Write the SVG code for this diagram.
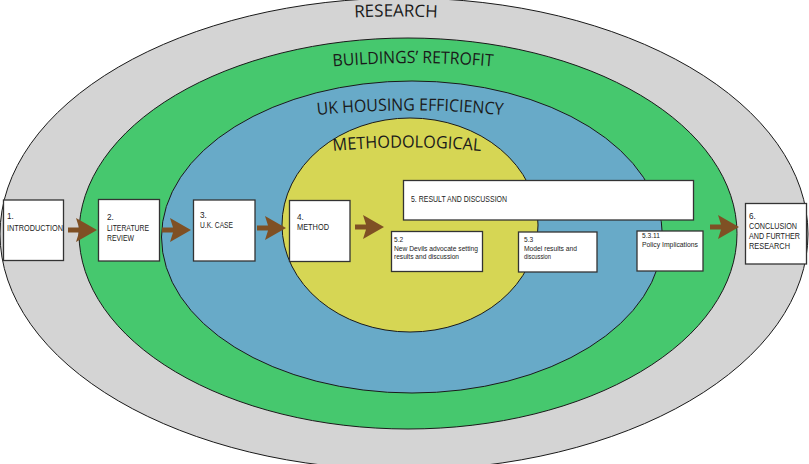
<svg xmlns="http://www.w3.org/2000/svg" xmlns:xlink="http://www.w3.org/1999/xlink" width="809" height="464" viewBox="0 0 809 464">
<style>
.ring{stroke:#1a1a1a;stroke-width:1}
.box{fill:#ffffff;stroke:#333333;stroke-width:1.3}
.lbl{font-family:"Open Sans","Liberation Sans",sans-serif;font-size:17px;fill:#1a1a1a}
.t{font-family:"Liberation Sans",Arial,sans-serif;font-size:8.2px;fill:#222222}
.s{font-family:"Liberation Sans",Arial,sans-serif;font-size:6.6px;fill:#222222}
.arr{fill:#7f5024}
</style>
<defs>
<path id="arrow" d="M0,-2.5 H11 L8,-12 L29,0 L8,12 L11,2.5 H0 Z"/>
<path id="pResearch" d="M330 19 Q 396 14 462 19"/>
<path id="pBuild" d="M310 69 Q 413 57 516 69"/>
<path id="pUK" d="M300 117 Q 410 104 520 117"/>
<path id="pMeth" d="M315 153 Q 407 142 499 153"/>
</defs>

<g id="research">
<ellipse class="ring" cx="404" cy="234" rx="404" ry="236" fill="#d4d4d4"/>
<text class="lbl" font-size="16"><textPath href="#pResearch" startOffset="50%" text-anchor="middle">RESEARCH</textPath></text>
</g>
<g id="buildings-retrofit">
<ellipse class="ring" cx="408" cy="233.5" rx="329" ry="195.5" fill="#46c86e"/>
<text class="lbl"><textPath href="#pBuild" startOffset="50%" text-anchor="middle" textLength="160" lengthAdjust="spacingAndGlyphs">BUILDINGS’ RETROFIT</textPath></text>
</g>
<g id="uk-housing-efficiency">
<ellipse class="ring" cx="412" cy="237" rx="250.5" ry="156" fill="#68aac8"/>
<text class="lbl" font-size="18"><textPath href="#pUK" startOffset="50%" text-anchor="middle" textLength="186" lengthAdjust="spacingAndGlyphs">UK HOUSING EFFICIENCY</textPath></text>
</g>
<g id="methodological">
<ellipse class="ring" cx="410" cy="225" rx="128" ry="107" fill="#d6d654"/>
<text class="lbl" font-size="18"><textPath href="#pMeth" startOffset="50%" text-anchor="middle" textLength="148" lengthAdjust="spacingAndGlyphs">METHODOLOGICAL</textPath></text>
</g>

<g id="connectors">
<use href="#arrow" class="arr" x="68" y="230"/>
<use href="#arrow" class="arr" x="162" y="230"/>
<use href="#arrow" class="arr" x="257" y="228"/>
<use href="#arrow" class="arr" x="355" y="227"/>
<use href="#arrow" class="arr" x="710" y="227"/>
</g>

<g id="n1">
<rect class="box" x="3.5" y="200" width="60" height="60.5"/>
<text class="t" x="7" y="219">1.</text>
<text class="t" x="7" y="231" textLength="56" lengthAdjust="spacingAndGlyphs">INTRODUCTION</text>
</g>
<g id="n2">
<rect class="box" x="98.5" y="199.5" width="61" height="61.5"/>
<text class="t" x="107" y="220">2.</text>
<text class="t" x="107" y="231" textLength="42" lengthAdjust="spacingAndGlyphs">LITERATURE</text>
<text class="t" x="107" y="241" textLength="27" lengthAdjust="spacingAndGlyphs">REVIEW</text>
</g>
<g id="n3">
<rect class="box" x="193.5" y="200" width="61.5" height="61"/>
<text class="t" x="200" y="218">3.</text>
<text class="t" x="200" y="228" textLength="33" lengthAdjust="spacingAndGlyphs">U.K. CASE</text>
</g>
<g id="n4">
<rect class="box" x="289.5" y="200.5" width="60.5" height="61"/>
<text class="t" x="297" y="220">4.</text>
<text class="t" x="297" y="230" textLength="32" lengthAdjust="spacingAndGlyphs">METHOD</text>
</g>
<g id="n5">
<rect class="box" x="403.5" y="180.5" width="290" height="39.5"/>
<text class="t" x="411" y="202" textLength="96" lengthAdjust="spacingAndGlyphs">5. RESULT AND DISCUSSION</text>
</g>
<g id="n5-2">
<rect class="box" x="391.5" y="231.5" width="91" height="40"/>
<text class="s" x="394" y="242">5.2</text>
<text class="s" x="394" y="251" textLength="84" lengthAdjust="spacingAndGlyphs">New Devils advocate setting</text>
<text class="s" x="394" y="258.5" textLength="65" lengthAdjust="spacingAndGlyphs">results and discussion</text>
</g>
<g id="n5-3">
<rect class="box" x="518.5" y="232" width="78.5" height="40"/>
<text class="s" x="524" y="242">5.3</text>
<text class="s" x="524" y="251" textLength="53" lengthAdjust="spacingAndGlyphs">Model results and</text>
<text class="s" x="524" y="258.5" textLength="27" lengthAdjust="spacingAndGlyphs">discussion</text>
</g>
<g id="n5-3-11">
<rect class="box" x="637" y="231" width="66" height="40"/>
<text class="s" x="642" y="238">5.3.11</text>
<text class="s" x="642" y="246.5" textLength="56" lengthAdjust="spacingAndGlyphs">Policy Implications</text>
</g>
<g id="n6">
<rect class="box" x="745.5" y="203.5" width="61" height="60.5"/>
<text class="t" x="749" y="218.5">6.</text>
<text class="t" x="749" y="229" textLength="48" lengthAdjust="spacingAndGlyphs">CONCLUSION</text>
<text class="t" x="749" y="239" textLength="51" lengthAdjust="spacingAndGlyphs">AND FURTHER</text>
<text class="t" x="749" y="249" textLength="41" lengthAdjust="spacingAndGlyphs">RESEARCH</text>
</g>
</svg>
